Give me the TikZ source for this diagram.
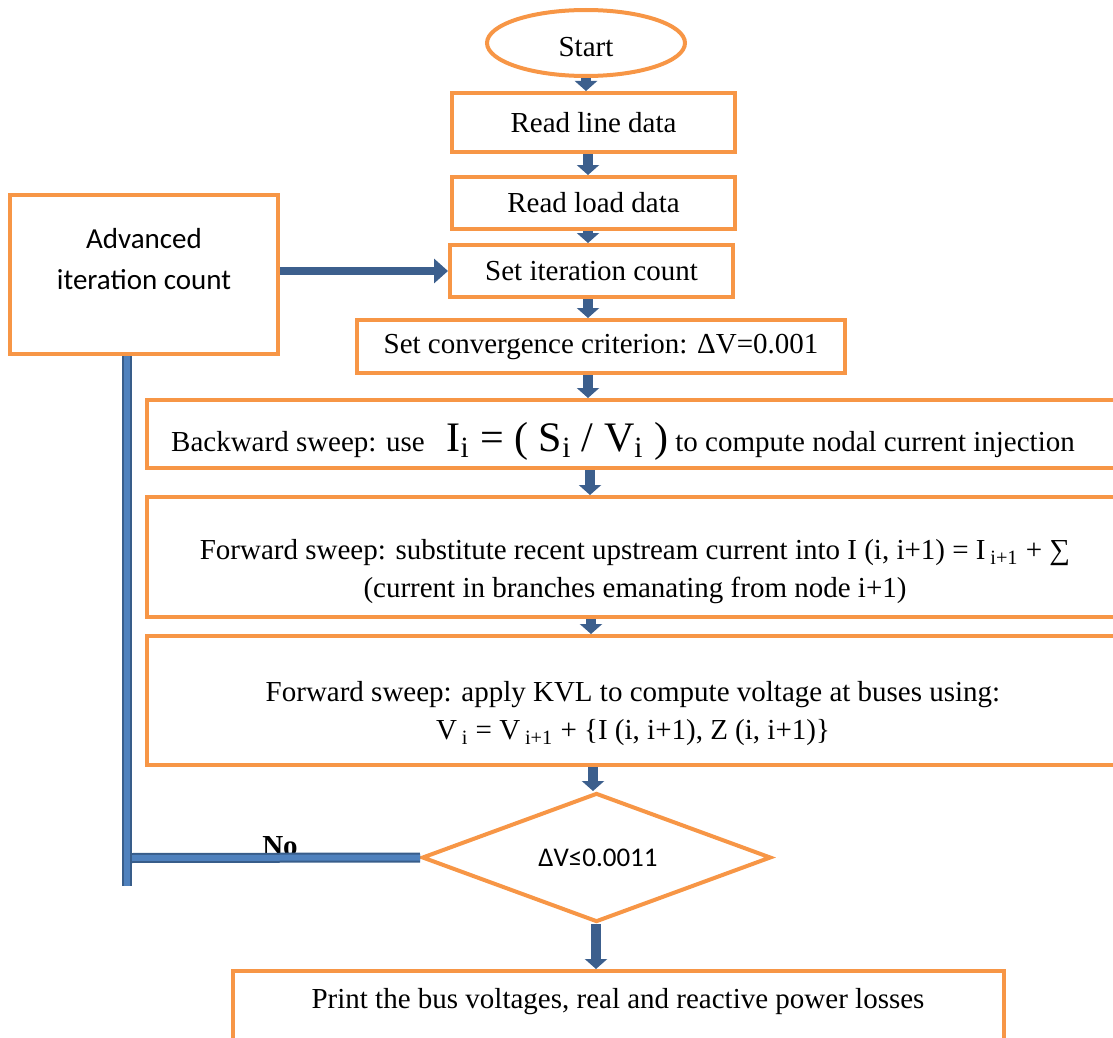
\documentclass[tikz,border=0pt]{standalone}
\usepackage{fontspec}
\setmainfont{Liberation Serif}
\newfontfamily\calibri{Carlito}
\usepackage{xcolor}
\usetikzlibrary{arrows.meta, calc, positioning, shapes.geometric}
\definecolor{boxorange}{HTML}{F79646}
\definecolor{arrowblue}{HTML}{3C5F8D}
\definecolor{lineblue}{HTML}{4F81BD}
\definecolor{edgeblue}{HTML}{385D8A}
\tikzset{
    proc/.style ={rectangle, draw=boxorange, line width=2pt, inner sep=0pt},
    term/.style ={ellipse, draw=boxorange, line width=2pt, inner sep=0pt},
    decision/.style ={diamond, draw=boxorange, line width=2pt, inner sep=0pt},
    txt/.style ={align=center, font=\fontsize{14.5}{19}\selectfont},
    flow/.style ={draw=arrowblue, line width=5pt, -{Triangle[width=11pt,length=5pt]}},
    loopback/.style ={draw=edgeblue, line width=1pt, double=lineblue, double distance=3pt}
    }

\begin{document}
\begin{tikzpicture}[
      x = 0.5pt, y = -0.5pt, % pixel grid of the page
      semithick % line style
    ]
    \useasboundingbox (0,0) rectangle (1113,1038);
    \clip (0,0) rectangle (1113,1038);

    \node[term, minimum width=99pt, minimum height=33pt] (1) at (586,43) {};
    \node[txt] (1t) at (586,47) {Start};
    \node[proc, txt, minimum width=141.5pt, minimum height=29.5pt] (2) at (593.5,122.5) {Read line data};
    \node[proc, txt, minimum width=141.5pt, minimum height=26pt] (3) at (593.5,203) {Read load data};
    \node[proc, txt, minimum width=141.5pt, minimum height=26pt] (4) at (591.5,271) {Set iteration count};
    \node[proc, txt, minimum width=244pt, minimum height=26.5pt] (5) at (601,346.5) {Set convergence criterion: ΔV=0.001};

    \node[proc, minimum width=487pt, minimum height=34pt] (6) at (634,434) {};
    \node[txt] (6t) at (623,441) {Backward sweep: use \enspace{\fontsize{21}{24}\selectfont I\textsubscript{i} = ( S\textsubscript{i} / V\textsubscript{i} )} to compute nodal current injection};

    \node[proc, minimum width=487pt, minimum height=60pt] (7) at (634,557) {};
    \node[txt] (7t) at (635,572) {Forward sweep: substitute recent upstream current into I (i, i+1) = I\,\textsubscript{i+1} + ∑\\(current in branches emanating from node i+1)};

    \node[proc, minimum width=487pt, minimum height=64.5pt] (8) at (634,700.5) {};
    \node[txt] (8t) at (633,714) {Forward sweep: apply KVL to compute voltage at buses using:\\V\,\textsubscript{i} = V\,\textsubscript{i+1} + \{I (i, i+1), Z (i, i+1)\}};

    \node[decision, minimum width=174.5pt, minimum height=64.5pt] (9) at (596.5,857.5) {};
    \node[txt, font=\calibri\fontsize{13.5}{16}\selectfont] (9t) at (598,858) {ΔV≤0.0011};

    \node[proc, minimum width=385.5pt, minimum height=44.5pt] (10) at (618.5,1015.5) {};
    \node[txt] (10t) at (618,1002) {Print the bus voltages, real and reactive power losses};

    \node[proc, minimum width=134pt, minimum height=79.5pt] (11) at (144,274.5) {};
    \node[txt, font=\calibri\fontsize{14.5}{20.5}\selectfont] (11t) at (144,259) {Advanced\\iteration count};

    \node[font=\bfseries\fontsize{14.5}{17}\selectfont] (12) at (280,846) {No};

    \coordinate (fb) at (127,858);
    \coordinate (fbend) at (127,886);

    \draw[flow] (586,0 |- 1.south) -- (586,0 |- 2.north);
    \draw[flow] (588,0 |- 2.south) -- (588,0 |- 3.north);
    \draw[flow] (588,0 |- 3.south) -- (588,0 |- 4.north);
    \draw[flow] (588,0 |- 4.south) -- (588,0 |- 5.north);
    \draw[flow] (588,0 |- 5.south) -- (588,0 |- 6.north);
    \draw[flow] (590,0 |- 6.south) -- (590,0 |- 7.north);
    \draw[flow] (591,0 |- 7.south) -- (591,0 |- 8.north);
    \draw[flow] (593,0 |- 8.south) -- (593,0 |- 9.north);
    \draw[flow] (596,0 |- 9.south) -- (596,0 |- 10.north);

    \draw[flow, line width=4pt, -{Triangle[width=12pt,length=7pt]}] (11.east |- 4.west) -- (4.west);

    \draw[loopback] (9.west) -- (fb);
    \draw[loopback] (fbend) -- (fbend |- 11.south);
\end{tikzpicture}
\end{document}
